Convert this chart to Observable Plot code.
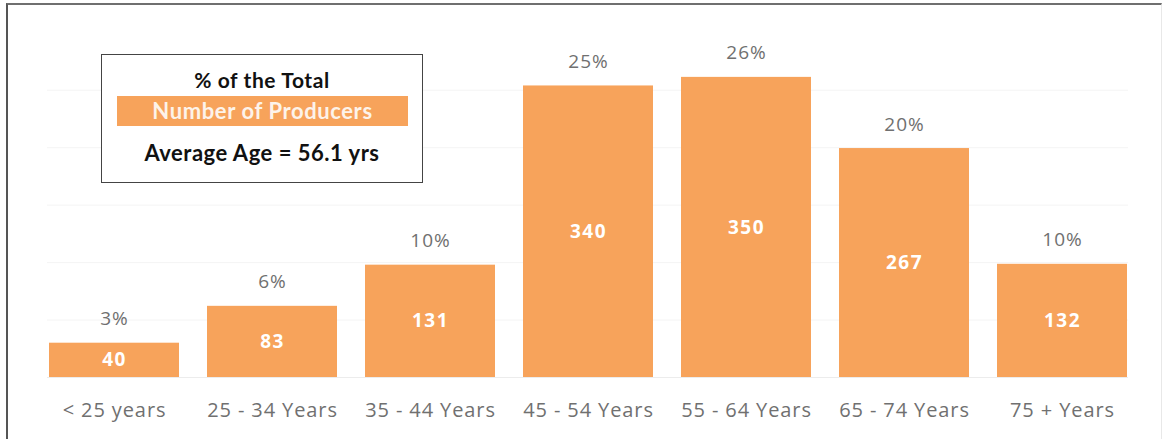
<!DOCTYPE html>
<html>
<head>
<meta charset="utf-8">
<script src="https://cdn.jsdelivr.net/npm/d3@7"></script>
<script src="https://cdn.jsdelivr.net/npm/@observablehq/plot@0.6"></script>
<style>
  html, body { margin: 0; padding: 0; background: #fff; }
  #wrap { position: relative; width: 1163px; height: 439px; overflow: hidden; font-family: "Open Sans", Lato, sans-serif; }
  #frame { position: absolute; left: 6px; top: 3px; width: 1153px; height: 440px;
           border-top: 2px solid #6f6f6f; border-left: 2px solid #555; border-right: 1px solid #e8e8e8; pointer-events: none; }
  #legend { position: absolute; left: 101px; top: 54px; width: 320px; height: 127px;
            border: 1.5px solid #444; background: #fff; }
  #legend .t1 { position: absolute; left: 0; right: 0; top: 12px; text-align: center; font-weight: bold; font-size: 21px; color: #111; font-family: Lato, sans-serif; letter-spacing: 0.6px; }
  #legend .sw { position: absolute; left: 15px; width: 291px; top: 41px; height: 30px; background: #F7A35B;
                color: #fdf3ea; font-weight: bold; font-size: 22px; text-align: center; line-height: 30px; font-family: Lato, sans-serif; letter-spacing: 0.6px; }
  #legend .t3 { position: absolute; left: 0; right: 0; top: 84px; text-align: center; font-weight: bold; font-size: 22px; color: #111; font-family: Lato, sans-serif; letter-spacing: 0.5px; }
  g[aria-label="x-axis tick label"] text { letter-spacing: 0.9px; }
  g.pct text { letter-spacing: 1px; }
  g.val text { letter-spacing: 1.5px; }
</style>
</head>
<body>
<div id="wrap">
  <div id="chart"></div>
  <div id="legend">
    <div class="t1">% of the Total</div>
    <div class="sw">Number of Producers</div>
    <div class="t3">Average Age = 56.1 yrs</div>
  </div>
  <div id="frame"></div>
</div>
<script>
const categories = ["< 25 years", "25 - 34 Years", "35 - 44 Years", "45 - 54 Years", "55 - 64 Years", "65 - 74 Years", "75 + Years"];
const producers = [40, 83, 131, 340, 350, 267, 132];
const percents = [3, 6, 10, 25, 26, 20, 10];
const gridValues = [67, 134, 201, 268, 335];

const data = categories.map((c, i) => ({cat: c, n: producers[i], pct: percents[i]}));
const orange = "#F7A35B";

const chart = Plot.plot({
  width: 1163,
  height: 439,
  marginLeft: 47,
  marginRight: 35,
  marginTop: 34,
  marginBottom: 62,
  style: {fontFamily: "'Open Sans', Lato, sans-serif", background: "transparent"},
  x: {domain: categories, paddingInner: 0.18, paddingOuter: 0, label: null},
  y: {domain: [0, 400], axis: null},
  marks: [
    Plot.ruleY(gridValues, {stroke: "#f4f4f4", strokeWidth: 1}),
    Plot.barY(data, {x: "cat", y: "n", fill: orange}),
    Plot.ruleY([0], {stroke: "#ececec"}),
    Plot.text(data, {x: "cat", y: "n", text: d => d.pct + "%", dy: -24, fill: "#707070", fontSize: 19, className: "pct"}),
    Plot.text(data, {x: "cat", y: d => d.n / 2, text: d => String(d.n), fill: "#fff", fontWeight: "bold", fontSize: 19, className: "val"}),
    Plot.axisX({tickSize: 0, tickPadding: 25, fontSize: 20, color: "#707070", label: null})
  ]
});
document.getElementById("chart").appendChild(chart);
</script>
</body>
</html>
